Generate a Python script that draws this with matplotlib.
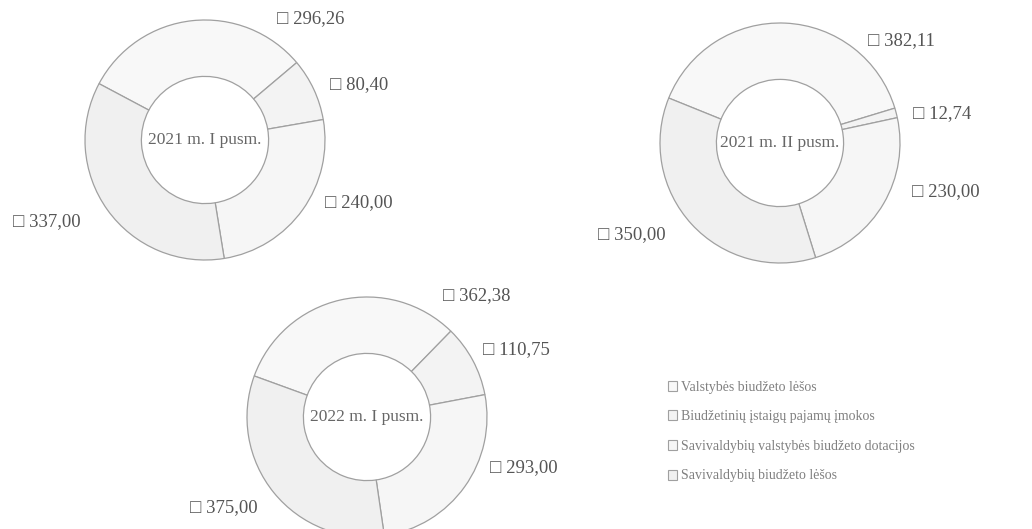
import numpy as np
import matplotlib.pyplot as plt
from matplotlib.patches import Patch

# data
categories = ['Valstybės biudžeto lėšos',
              'Biudžetinių įstaigų pajamų įmokos',
              'Savivaldybių valstybės biudžeto dotacijos',
              'Savivaldybių biudžeto lėšos']
periods = ['2021 m. I pusm.', '2021 m. II pusm.', '2022 m. I pusm.']
values_2021_1 = [296.26, 80.40, 240.00, 337.00]
values_2021_2 = [382.11, 12.74, 230.00, 350.00]
values_2022_1 = [362.38, 110.75, 293.00, 375.00]

W, H = 1032, 529
R = 120  # outer radius in px
fills = ['#f8f8f8', '#f3f3f3', '#f6f6f6', '#f0f0f0']
edge = '#a0a0a0'
txt = '#555555'
fam = ['Liberation Serif', 'DejaVu Serif']

# layout: donut centres, start angle, label offsets (px from centre)
layout = [
    dict(c=(205, 140), start=152,
         labels=[(72, -121), (125, -55), (120, 63), (-192, 82)]),
    dict(c=(780, 143), start=158,
         labels=[(88, -102), (133, -29), (132, 49), (-182, 92)]),
    dict(c=(367, 417), start=160,
         labels=[(76, -121), (116, -67), (123, 51), (-177, 91)]),
]
all_values = [values_2021_1, values_2021_2, values_2022_1]

fig = plt.figure(figsize=(W / 100, H / 100), dpi=100)
L = 1.8
S = 2 * L * R
for vals, name, lay in zip(all_values, periods, layout):
    cx, cy = lay['c']
    ax = fig.add_axes([(cx - S / 2) / W, 1 - (cy + S / 2) / H, S / W, S / H])
    ax.pie(vals, radius=1, startangle=lay['start'], counterclock=False,
           colors=fills,
           wedgeprops=dict(width=0.47, edgecolor=edge, linewidth=0.9))
    ax.set_xlim(-L, L)
    ax.set_ylim(-L, L)
    ax.set_aspect('equal')
    ax.axis('off')
    ax.text(0, 0, name, ha='center', va='center', fontsize=12.5,
            color='#666666', family=fam)
    for v, (dx, dy) in zip(vals, lay['labels']):
        s = '□ ' + f'{v:.2f}'.replace('.', ',')
        ax.text(dx / R, -dy / R, s, ha='left', va='center', fontsize=13.5,
                color=txt, family=fam)

handles = [Patch(facecolor=f, edgecolor=edge, linewidth=0.8) for f in fills]
fig.legend(handles, categories, loc='upper left',
           bbox_to_anchor=(655 / W, 1 - 368 / H), frameon=False,
           handlelength=0.7, handleheight=0.7, handletextpad=0.25,
           labelspacing=1.2, prop=dict(family=fam, size=10),
           labelcolor='#808080')

fig.savefig('out.png', dpi=100, facecolor='white')
